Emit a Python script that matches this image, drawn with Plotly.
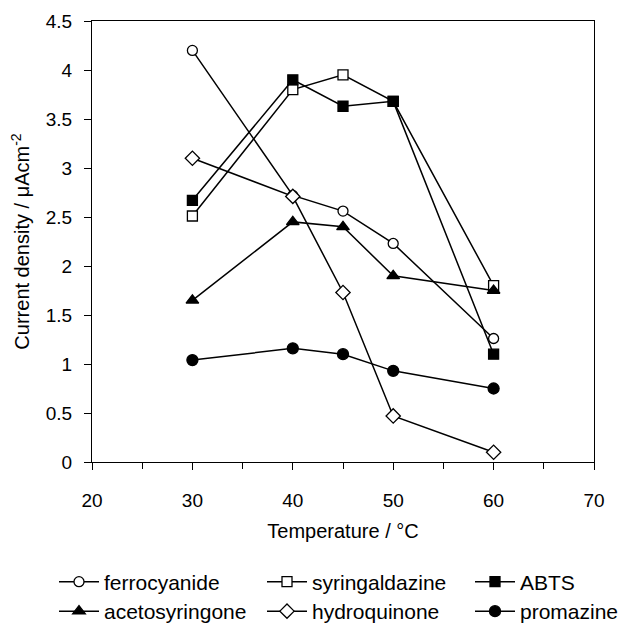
import plotly.graph_objects as go

temps = [30, 40, 45, 50, 60]
series_names = ["ferrocyanide", "syringaldazine", "ABTS",
                "acetosyringone", "hydroquinone", "promazine"]
ferrocyanide = [4.20, 2.72, 2.56, 2.23, 1.26]
syringaldazine = [2.51, 3.80, 3.95, 3.68, 1.80]
abts = [2.67, 3.90, 3.63, 3.68, 1.10]
acetosyringone = [1.65, 2.45, 2.40, 1.90, 1.75]
hydroquinone = [3.10, 2.71, 1.73, 0.47, 0.10]
promazine = [1.04, 1.16, 1.10, 0.93, 0.75]
values = [ferrocyanide, syringaldazine, abts, acetosyringone, hydroquinone, promazine]

symbols = ["circle", "square", "square", "triangle-up", "diamond", "circle"]
fills = ["white", "white", "black", "black", "white", "black"]
sizes = [10, 10, 10, 11, 11, 11]

FONT = "Liberation Sans, Arial, sans-serif"
FS_TICK = 19
FS_TITLE = 20
FS_LEG = 21
W, H = 622, 624

# legend slots: column left edges (px) and row placement within the figure
leg_cols = [46, 254, 462]
leg_rows = [(1 - 574 / H, "middle"), (0.0, "bottom")]

fig = go.Figure()
layout_legends = {}
for i, (name, vals, sym, fc, sz) in enumerate(zip(series_names, values, symbols, fills, sizes)):
    lid = "legend" if i == 0 else f"legend{i + 1}"
    fig.add_trace(go.Scatter(
        x=temps, y=vals, name=name, mode="lines+markers",
        line=dict(color="black", width=1.5),
        marker=dict(symbol=sym, size=sz, color=fc, line=dict(color="black", width=1.3)),
        legend=lid, cliponaxis=False,
    ))
    col, row = i % 3, i // 3
    ly, lanchor = leg_rows[row]
    layout_legends[lid] = dict(
        orientation="h", xref="container", yref="container",
        xanchor="left", yanchor=lanchor, itemwidth=40,
        x=leg_cols[col] / W, y=ly,
        font=dict(family=FONT, size=FS_LEG, color="black"),
        bgcolor="rgba(0,0,0,0)", borderwidth=0, itemclick=False,
    )

fig.update_layout(
    width=W, height=H,
    margin=dict(l=84, r=36, t=13, b=170, autoexpand=False),
    paper_bgcolor="white", plot_bgcolor="white",
    font=dict(family=FONT, size=FS_TICK, color="black"),
    showlegend=True,
    xaxis=dict(
        range=[20, 70], dtick=10, tick0=20, automargin=False,
        showline=True, linecolor="black", linewidth=1.3, mirror=True,
        ticks="outside", ticklen=7, tickwidth=1.3, tickcolor="black",
        minor=dict(dtick=5, ticks="outside", ticklen=6, tickwidth=1.3, tickcolor="black"),
        showgrid=False, zeroline=False,
        tickfont=dict(family=FONT, size=FS_TICK, color="black"),
        ticklabelstandoff=14,
        title=dict(text="Temperature / °C", standoff=14,
                   font=dict(family=FONT, size=FS_TITLE, color="black")),
    ),
    yaxis=dict(
        range=[0, 4.5], dtick=0.5, tick0=0, automargin=False,
        showline=True, linecolor="black", linewidth=1.3, mirror=True,
        ticks="outside", ticklen=7, tickwidth=1.3, tickcolor="black",
        showgrid=False, zeroline=False,
        tickfont=dict(family=FONT, size=FS_TICK, color="black"),
        ticklabelstandoff=8,
        title=dict(text="Current density / μAcm<sup>-2</sup>", standoff=15,
                   font=dict(family=FONT, size=FS_TITLE, color="black")),
    ),
    **layout_legends,
)

fig.write_html("out.html")
